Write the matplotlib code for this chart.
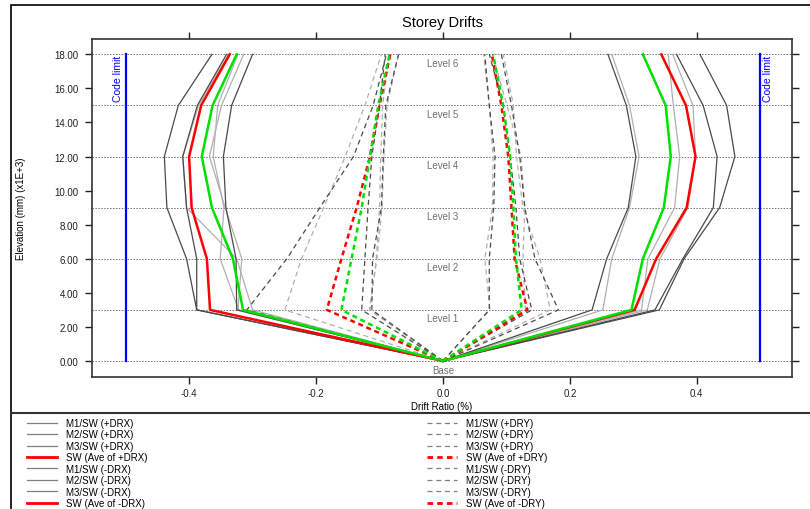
import numpy as np
import matplotlib
matplotlib.use("Agg")
import matplotlib.pyplot as plt
from matplotlib.lines import Line2D
from matplotlib.patches import Rectangle

plt.rcParams['font.family'] = ['Liberation Sans', 'DejaVu Sans']

# elevations (x1E+3 mm)
elev = [0, 3, 6, 9, 12, 15, 18]
levels = ["Base", "Level 1", "Level 2", "Level 3", "Level 4", "Level 5", "Level 6"]

# solid : DRX
pos_drx_m1 = [0, 0.341, 0.380, 0.436, 0.460, 0.447, 0.405]
pos_drx_m2 = [0, 0.334, 0.378, 0.426, 0.432, 0.410, 0.368]
pos_drx_m3 = [0, 0.235, 0.258, 0.292, 0.304, 0.289, 0.260]
pos_drx_ave = [0, 0.302, 0.336, 0.384, 0.398, 0.383, 0.344]
pos_drx_l1 = [0, 0.252, 0.266, 0.294, 0.309, 0.294, 0.266]
pos_drx_l2 = [0, 0.313, 0.323, 0.365, 0.373, 0.363, 0.355]
pos_drx_l3 = [0, 0.322, 0.342, 0.386, 0.398, 0.394, 0.362]
pos_drx_g = [0, 0.297, 0.315, 0.348, 0.359, 0.351, 0.315]

neg_drx_m1 = [0, -0.388, -0.404, -0.435, -0.439, -0.417, -0.364]
neg_drx_m2 = [0, -0.388, -0.388, -0.404, -0.410, -0.387, -0.341]
neg_drx_m3 = [0, -0.325, -0.326, -0.342, -0.346, -0.333, -0.300]
neg_drx_ave = [0, -0.367, -0.372, -0.396, -0.400, -0.381, -0.336]
neg_drx_l1 = [0, -0.323, -0.317, -0.343, -0.368, -0.349, -0.314]
neg_drx_l2 = [0, -0.300, -0.325, -0.404, -0.410, -0.385, -0.338]
neg_drx_l3 = [0, -0.322, -0.351, -0.345, -0.362, -0.355, -0.323]
neg_drx_g = [0, -0.315, -0.331, -0.364, -0.380, -0.363, -0.325]

# dashed : DRY
pos_dry_m1 = [0, 0.073, 0.073, 0.080, 0.082, 0.073, 0.066]
pos_dry_m2 = [0, 0.182, 0.145, 0.129, 0.121, 0.108, 0.092]
pos_dry_m3 = [0, 0.140, 0.121, 0.115, 0.106, 0.095, 0.073]
pos_dry_ave = [0, 0.133, 0.113, 0.108, 0.103, 0.092, 0.077]
pos_dry_l1 = [0, 0.074, 0.066, 0.078, 0.079, 0.073, 0.064]
pos_dry_l2 = [0, 0.169, 0.153, 0.126, 0.116, 0.111, 0.095]
pos_dry_l3 = [0, 0.130, 0.126, 0.129, 0.123, 0.101, 0.078]
pos_dry_g = [0, 0.124, 0.115, 0.111, 0.106, 0.095, 0.079]

neg_dry_m1 = [0, -0.309, -0.246, -0.194, -0.141, -0.110, -0.089]
neg_dry_m2 = [0, -0.128, -0.123, -0.118, -0.112, -0.100, -0.091]
neg_dry_m3 = [0, -0.112, -0.111, -0.097, -0.094, -0.090, -0.070]
neg_dry_ave = [0, -0.183, -0.160, -0.136, -0.115, -0.100, -0.083]
neg_dry_l1 = [0, -0.249, -0.223, -0.188, -0.154, -0.123, -0.097]
neg_dry_l2 = [0, -0.115, -0.105, -0.100, -0.098, -0.095, -0.085]
neg_dry_l3 = [0, -0.116, -0.104, -0.096, -0.093, -0.088, -0.070]
neg_dry_g = [0, -0.160, -0.144, -0.128, -0.115, -0.102, -0.084]

code_limit = 0.5

dark = '#4a4a4a'
light = '#b0b0b0'
red = '#ff0000'
green = '#00e000'

fig = plt.figure(figsize=(8.1, 5.1), dpi=100)
ax = fig.add_axes([92/810, 1-378/510, 700/810, 338/510])

# grid lines at levels
for e in elev:
    ax.axhline(e, color='#707070', lw=0.7, ls=(0, (1.5, 1.5)), zorder=1)
for e, name in zip(elev, levels):
    ax.text(0, e-0.5, name, ha='center', va='center', fontsize=7, color='#707070')

dsh = (0, (4, 3))
dsh_ave = (0, (2, 1.5))

# light ones first
for s in [pos_drx_l1, pos_drx_l2, pos_drx_l3, neg_drx_l1, neg_drx_l2, neg_drx_l3]:
    ax.plot(s, elev, color=light, lw=0.9, zorder=2)
for s in [pos_dry_l1, pos_dry_l2, pos_dry_l3, neg_dry_l1, neg_dry_l2, neg_dry_l3]:
    ax.plot(s, elev, color=light, lw=0.9, ls=dsh, zorder=2)
for s in [pos_drx_m1, pos_drx_m2, pos_drx_m3, neg_drx_m1, neg_drx_m2, neg_drx_m3]:
    ax.plot(s, elev, color=dark, lw=0.9, zorder=3)
for s in [pos_dry_m1, pos_dry_m2, pos_dry_m3, neg_dry_m1, neg_dry_m2, neg_dry_m3]:
    ax.plot(s, elev, color=dark, lw=0.9, ls=dsh, zorder=3)

ax.plot(pos_drx_ave, elev, color=red, lw=1.8, zorder=4)
ax.plot(neg_drx_ave, elev, color=red, lw=1.8, zorder=4)
ax.plot(pos_drx_g, elev, color=green, lw=1.8, zorder=4)
ax.plot(neg_drx_g, elev, color=green, lw=1.8, zorder=4)
ax.plot(pos_dry_ave, elev, color=red, lw=1.8, ls=dsh_ave, zorder=4)
ax.plot(neg_dry_ave, elev, color=red, lw=1.8, ls=dsh_ave, zorder=4)
ax.plot(pos_dry_g, elev, color=green, lw=1.8, ls=dsh_ave, zorder=4)
ax.plot(neg_dry_g, elev, color=green, lw=1.8, ls=dsh_ave, zorder=4)

# code limits
ax.plot([-code_limit, -code_limit], [0, 18], color='#0000ff', lw=1.6, zorder=5)
ax.plot([code_limit, code_limit], [0, 18], color='#0000ff', lw=1.6, zorder=5)
ax.text(-code_limit-0.004, 18, "Code limit", rotation=90, ha='right', va='top',
        color='#0000ff', fontsize=7.5)
ax.text(code_limit+0.004, 18, "Code limit", rotation=90, ha='left', va='top',
        color='#0000ff', fontsize=7.5)

ax.set_xlim(-0.553, 0.550)
ax.set_ylim(-0.94, 18.9)
ax.set_xticks([-0.4, -0.2, 0.0, 0.2, 0.4])
ax.set_xticklabels(["-0.4", "-0.2", "0.0", "0.2", "0.4"])
ax.set_yticks(np.arange(0, 19, 2))
ax.set_yticklabels(["%.2f" % v for v in np.arange(0, 19, 2)])
ax.tick_params(direction='out', length=5, width=1, top=True, right=True,
               labelsize=7, colors='#222222', pad=3)
ax.tick_params(axis='y', pad=5)
for sp in ax.spines.values():
    sp.set_color('#333333')
    sp.set_linewidth(1.2)

ax.set_title("Storey Drifts", fontsize=10.5, pad=9)
ax.set_xlabel("Drift Ratio (%)", fontsize=7, labelpad=2)
ax.set_ylabel("Elevation (mm) (x1E+3)", fontsize=7, labelpad=20)

# outer frame and separator
fig.patches.append(Rectangle((11/810, -0.1), 1.2, 1.1-6/510,
                             transform=fig.transFigure, fill=False,
                             edgecolor='black', lw=1.2))
fig.add_artist(Line2D([11/810, 1], [1-414/510, 1-414/510], transform=fig.transFigure,
                      color='#333333', lw=1.5))

# legends
drx_labels = ["M1/SW (+DRX)", "M2/SW (+DRX)", "M3/SW (+DRX)", "SW (Ave of +DRX)",
              "M1/SW (-DRX)", "M2/SW (-DRX)", "M3/SW (-DRX)", "SW (Ave of -DRX)"]
dry_labels = ["M1/SW (+DRY)", "M2/SW (+DRY)", "M3/SW (+DRY)", "SW (Ave of +DRY)",
              "M1/SW (-DRY)", "M2/SW (-DRY)", "M3/SW (-DRY)", "SW (Ave of -DRY)"]
h1 = []
h2 = []
for lab in drx_labels:
    if "Ave" in lab:
        h1.append(Line2D([], [], color=red, lw=2))
    else:
        h1.append(Line2D([], [], color='#808080', lw=0.9))
for lab in dry_labels:
    if "Ave" in lab:
        h2.append(Line2D([], [], color=red, lw=2, ls=(0, (2, 1.5))))
    else:
        h2.append(Line2D([], [], color='#808080', lw=0.9, ls=(0, (4, 3))))

leg1 = fig.legend(h1, drx_labels, loc='upper left',
                  bbox_to_anchor=(27/810, 1-419/510),
                  frameon=False, fontsize=7, handlelength=3.1, handletextpad=0.9,
                  labelspacing=0.15, borderpad=0, borderaxespad=0)
leg2 = fig.legend(h2, dry_labels, loc='upper left', bbox_to_anchor=(427/810, 1-419/510),
                  frameon=False, fontsize=7, handlelength=3.1, handletextpad=0.9,
                  labelspacing=0.15, borderpad=0, borderaxespad=0)

fig.savefig("out.png", dpi=100)
